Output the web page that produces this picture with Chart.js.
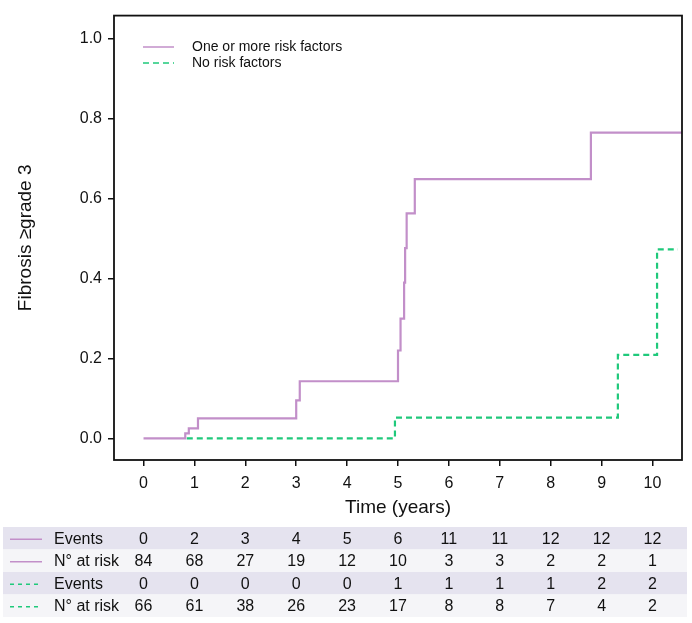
<!DOCTYPE html>
<html>
<head>
<meta charset="utf-8">
<script src="https://cdn.jsdelivr.net/npm/chart.js@4.4.1/dist/chart.umd.min.js"></script>
<style>
  body { margin: 0; background: #fff; }
  canvas { display: block; }
</style>
</head>
<body>
<canvas id="km" width="692" height="623"></canvas>
<script>
// curve with one or more risk factors (time in years, cumulative incidence)
var riskTimes  = [0, 0.82, 0.89, 1.07, 3.0, 3.07, 5.0, 5.05, 5.12, 5.14, 5.17, 5.33, 8.79, 10.6];
var riskValues = [0, 0.0125, 0.025, 0.05, 0.095, 0.143, 0.22, 0.30, 0.39, 0.476, 0.563, 0.649, 0.765, 0.765];

// curve with no risk factors
var noRiskTimes  = [0.85, 4.94, 9.32, 10.09, 10.5];
var noRiskValues = [0, 0.052, 0.209, 0.473, 0.473];

var xTicks = [0, 1, 2, 3, 4, 5, 6, 7, 8, 9, 10];
var yTicks = [0, 0.2, 0.4, 0.6, 0.8, 1.0];

// risk table under the plot
var riskEvents  = [0, 2, 3, 4, 5, 6, 11, 11, 12, 12, 12];
var riskAtRisk  = [84, 68, 27, 19, 12, 10, 3, 3, 2, 2, 1];
var noRiskEvents = [0, 0, 0, 0, 0, 1, 1, 1, 1, 2, 2];
var noRiskAtRisk = [66, 61, 38, 26, 23, 17, 8, 8, 7, 4, 2];

var seriesNames = ['One or more risk factors', 'No risk factors'];

var purple = '#c28fc9';
var green = '#1fc97b';
var fontFamily = '"Liberation Sans", Arial, sans-serif';

function toPoints(xs, ys) {
  return xs.map(function(x, i) { return {x: x, y: ys[i]}; });
}

var boxPlugin = {
  id: 'boxPlugin',
  afterDraw: function(chart) {
    var ctx = chart.ctx;
    var a = chart.chartArea;
    ctx.save();
    ctx.strokeStyle = '#111';
    ctx.lineWidth = 1.8;
    ctx.strokeRect(a.left, a.top, a.right - a.left, a.bottom - a.top);

    // legend inside the plot
    ctx.font = '14px ' + fontFamily;
    ctx.textBaseline = 'middle';
    ctx.fillStyle = '#111';
    var legendY = [47, 63];
    var styles = [{c: purple, d: []}, {c: green, d: [6, 4]}];
    for (var i = 0; i < 2; i++) {
      ctx.strokeStyle = styles[i].c;
      ctx.lineWidth = 1.5;
      ctx.setLineDash(styles[i].d);
      ctx.beginPath();
      ctx.moveTo(143, legendY[i]);
      ctx.lineTo(174, legendY[i]);
      ctx.stroke();
      ctx.setLineDash([]);
      ctx.fillText(seriesNames[i], 192, legendY[i]);
    }

    // number at risk table
    var x = chart.scales.x;
    var rows = [
      {label: 'Events', vals: riskEvents, c: purple, d: [], bg: '#e5e3ef'},
      {label: 'N\u00b0 at risk', vals: riskAtRisk, c: purple, d: [], bg: '#f5f5f8'},
      {label: 'Events', vals: noRiskEvents, c: green, d: [4, 4], bg: '#e5e3ef'},
      {label: 'N\u00b0 at risk', vals: noRiskAtRisk, c: green, d: [4, 4], bg: '#f5f5f8'}
    ];
    var top = 527, rh = 22.5;
    ctx.font = '16px ' + fontFamily;
    rows.forEach(function(r, k) {
      var y0 = top + k * rh;
      ctx.fillStyle = r.bg;
      ctx.fillRect(3, y0, 684, rh);
      var cy = y0 + rh / 2 + 1;
      ctx.strokeStyle = r.c;
      ctx.lineWidth = 1.5;
      ctx.setLineDash(r.d);
      ctx.beginPath();
      ctx.moveTo(10, cy);
      ctx.lineTo(42, cy);
      ctx.stroke();
      ctx.setLineDash([]);
      ctx.fillStyle = '#111';
      ctx.textAlign = 'left';
      ctx.fillText(r.label, 54, cy);
      ctx.textAlign = 'center';
      r.vals.forEach(function(v, j) {
        ctx.fillText(String(v), x.getPixelForValue(xTicks[j]), cy);
      });
    });
    ctx.restore();
  }
};

new Chart(document.getElementById('km').getContext('2d'), {
  type: 'line',
  data: {
    datasets: [{
      label: seriesNames[0],
      data: toPoints(riskTimes, riskValues),
      borderColor: purple,
      borderWidth: 2.2,
      stepped: 'before',
      pointRadius: 0,
      fill: false
    }, {
      label: seriesNames[1],
      data: toPoints(noRiskTimes, noRiskValues),
      borderColor: green,
      borderWidth: 2.2,
      borderDash: [6, 4],
      stepped: 'before',
      pointRadius: 0,
      fill: false
    }]
  },
  options: {
    responsive: false,
    animation: false,
    layout: { padding: { left: 0, top: 15, right: 10, bottom: 103 } },
    plugins: { legend: { display: false }, tooltip: { enabled: false } },
    scales: {
      x: {
        type: 'linear',
        min: -0.58,
        max: 10.58,
        afterBuildTicks: function(s) { s.ticks = xTicks.map(function(v) { return {value: v}; }); },
        afterFit: function(s) { s.height = 60; },
        grid: { drawOnChartArea: false, drawTicks: true, tickLength: 6, color: '#111', lineWidth: 1.5 },
        border: { display: false },
        ticks: { color: '#111', padding: 8, font: { family: fontFamily, size: 16 } },
        title: { display: true, text: 'Time (years)', color: '#111', padding: { top: 0, bottom: 1 }, font: { family: fontFamily, size: 19 } }
      },
      y: {
        type: 'linear',
        min: -0.054,
        max: 1.058,
        afterBuildTicks: function(s) { s.ticks = yTicks.map(function(v) { return {value: v}; }); },
        afterFit: function(s) { s.width = 114; },
        grid: { drawOnChartArea: false, drawTicks: true, tickLength: 6, color: '#111', lineWidth: 1.5 },
        border: { display: false },
        ticks: { color: '#111', padding: 6, font: { family: fontFamily, size: 16 },
          callback: function(v) { return v.toFixed(1); } },
        title: { display: true, text: 'Fibrosis \u2265grade 3', color: '#111', padding: { top: 14, bottom: 0 }, font: { family: fontFamily, size: 19 } }
      }
    }
  },
  plugins: [boxPlugin]
});
</script>
</body>
</html>
